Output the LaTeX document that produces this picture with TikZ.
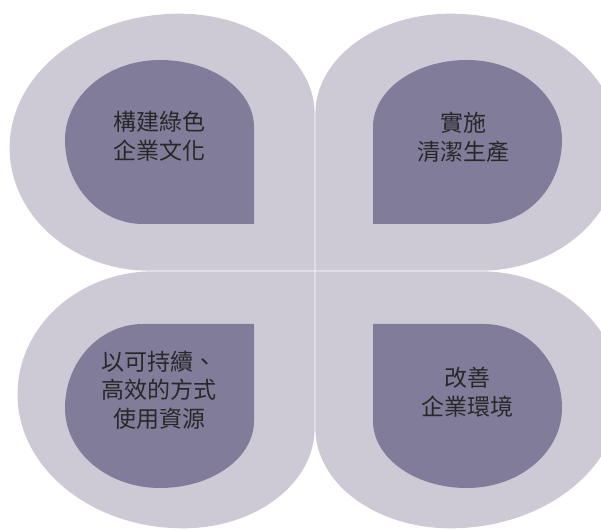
\documentclass[tikz,border=0pt]{standalone}
\usepackage{fontspec}
\newfontfamily\cjk{Noto Sans CJK TC}
\definecolor{outerc}{HTML}{CDCAD6}
\definecolor{innerc}{HTML}{807C99}
\definecolor{txtc}{HTML}{282828}
\tikzset{
  pics/outerpetal/.style={code={
    \fill[outerc] (0,0) -- (0,157)
      arc[start angle=0,end angle=90,x radius=135,y radius=100]
      arc[start angle=90,end angle=180,x radius=170,y radius=134]
      arc[start angle=180,end angle=270,x radius=140,y radius=123]
      -- cycle;}},
  pics/innerpetal/.style={code={
    \fill[innerc] (0,0) -- (0,97)
      arc[start angle=0,end angle=90,x radius=94,y radius=67]
      arc[start angle=90,end angle=180,x radius=95,y radius=80]
      arc[start angle=180,end angle=270,x radius=78,y radius=84]
      -- cycle;}},
  label/.style={align=center,text=txtc,font=\cjk\fontsize{23}{29}\selectfont,inner sep=0pt}
}
\begin{document}
\begin{tikzpicture}[x=1pt,y=1pt]
\useasboundingbox (0,0) rectangle (601,529);
\begin{scope}
\clip (0,0) rectangle (601,529);
% outer petals
\pic at (314.6,258.3) {outerpetal};
\pic[xscale=-1] at (315.4,258.3) {outerpetal};
\pic[yscale=-1,xscale=0.974] at (314.6,257.7) {outerpetal};
\pic[xscale=-1,yscale=-1] at (315.4,257.7) {outerpetal};
% inner petals
\pic at (254,305) {innerpetal};
\pic[xscale=-1] at (373,305) {innerpetal};
\pic[yscale=-1] at (254,205) {innerpetal};
\pic[xscale=-1,yscale=-1] at (373,205) {innerpetal};
\end{scope}
% labels
\node[label] (tl) at (159,393) {構建綠色\\企業文化};
\node[label] (tr) at (463,392) {實施\\清潔生產};
\node[label,font=\cjk\fontsize{23}{28.5}\selectfont] (bl) at (159,139) {以可持續、\\高效的方式\\使用資源};
\node[label] (br) at (467,137) {改善\\企業環境};
\end{tikzpicture}
\end{document}
